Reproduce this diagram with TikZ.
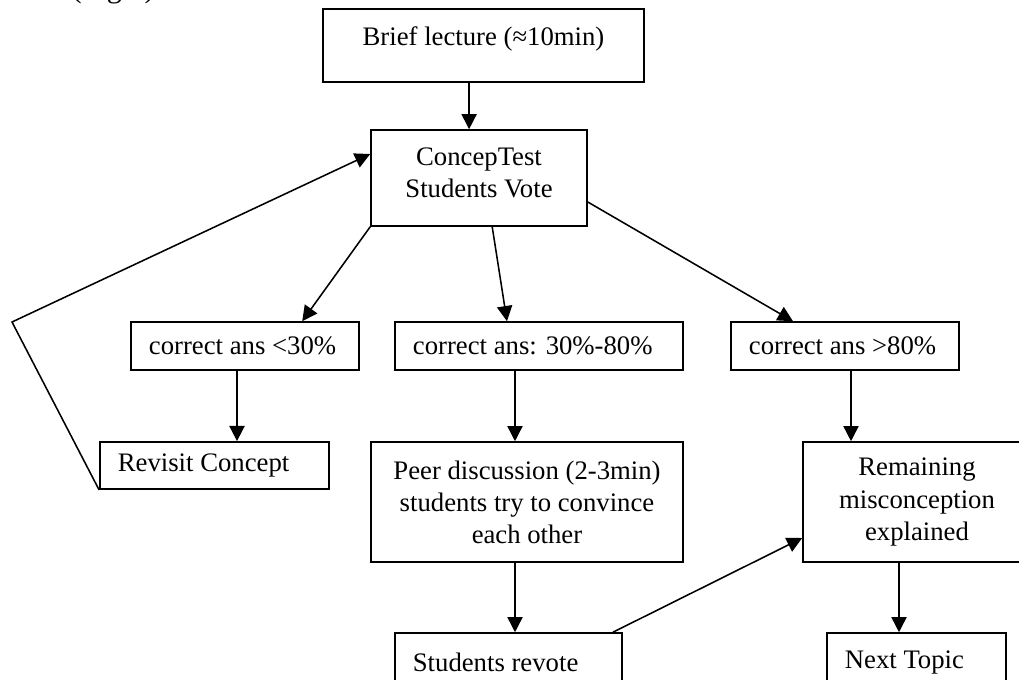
\documentclass[tikz,border=0pt]{standalone}
\usepackage{fontspec}
\setmainfont{Liberation Serif}
\usetikzlibrary{arrows.meta}

\tikzset{
  box/.style={draw, line width=1.1pt, align=center, inner sep=2pt},
  lbox/.style={draw, line width=1.1pt, align=flush left, inner xsep=0.45cm, inner ysep=2pt},
}

\begin{document}
\begin{tikzpicture}[x=0.025cm, y=-0.025cm, line width=1.1pt,
    >={Triangle[length=0.38cm, width=0.38cm]},
    font=\fontsize{19}{22.8}\selectfont]
          \useasboundingbox (0, 0) rectangle (1019, 679);
          \node[anchor=base east, inner sep=0pt, font=\fontsize{21.5}{25}\selectfont] (intro) at (163, -3) {below (Fig.1).};
          \node[box, minimum width=8.03cm, minimum height=1.83cm, text depth=0.47cm] (lecture) at (483.5, 45.5) {Brief lecture (≈10min)};
          \node[box, minimum width=5.4cm, minimum height=2.4cm, text depth=0.25cm] (vote) at (479, 178) {ConcepTest\\Students Vote};
          \node[lbox, text width=4.8cm, minimum height=1.2cm] (low) at (245, 346) {correct ans <30\%};
          \node[lbox, text width=6.3cm, minimum height=1.2cm] (mid) at (539, 346) {correct ans: 30\%-80\%};
          \node[lbox, text width=4.8cm, minimum height=1.2cm] (high) at (845, 346) {correct ans >80\%};
          \node[lbox, text width=4.83cm, minimum height=1.18cm] (revisit) at (214.5, 465.5) {Revisit Concept};
          \node[box, minimum width=7.8cm, minimum height=3cm] (peer) at (527, 502) {Peer discussion (2-3min)\\students try to convince\\each other};
          \node[box, minimum width=5.7cm, minimum height=3cm] (remain) at (917, 502) {Remaining\\misconception\\explained};
          \node[lbox, text width=4.78cm, minimum height=1.45cm] (revote) at (508.5, 662) {Students revote};
          \node[lbox, text width=3.58cm, minimum height=1.45cm] (next) at (916.5, 662) {Next Topic};
          \coordinate (bend) at (12, 322);
          \draw[->] ([xshift=-0.36cm]lecture.south) to ([xshift=-0.36cm]lecture.south |- vote.north);
          \draw[->] (vote.south west) to ([xshift=1.43cm]low.north);
          \draw[->] ([xshift=0.33cm]vote.south) to ([xshift=-0.8cm]mid.north);
          \draw[->] ([yshift=-0.6cm]vote.east) to ([xshift=-1.3cm]high.north);
          \draw[->] ([xshift=-0.2cm]low.south) to ([xshift=-0.2cm]low.south |- revisit.north);
          \draw[->] ([xshift=-0.6cm]mid.south) to ([xshift=-0.6cm]mid.south |- peer.north);
          \draw[->] ([xshift=0.15cm]high.south) to ([xshift=0.15cm]high.south |- remain.north);
          \draw[->] ([xshift=-0.3cm]peer.south) to ([xshift=-0.3cm]peer.south |- revote.north);
          \draw[->] ([xshift=-0.45cm]remain.south) to ([xshift=-0.45cm]remain.south |- next.north);
          \draw[->] ([xshift=-0.25cm]revote.north east) to ([yshift=-0.9cm]remain.west);
          \draw[->] (revisit.south west) -- (bend) -- ([yshift=0.6cm]vote.west);
        \end{tikzpicture}
\end{document}
